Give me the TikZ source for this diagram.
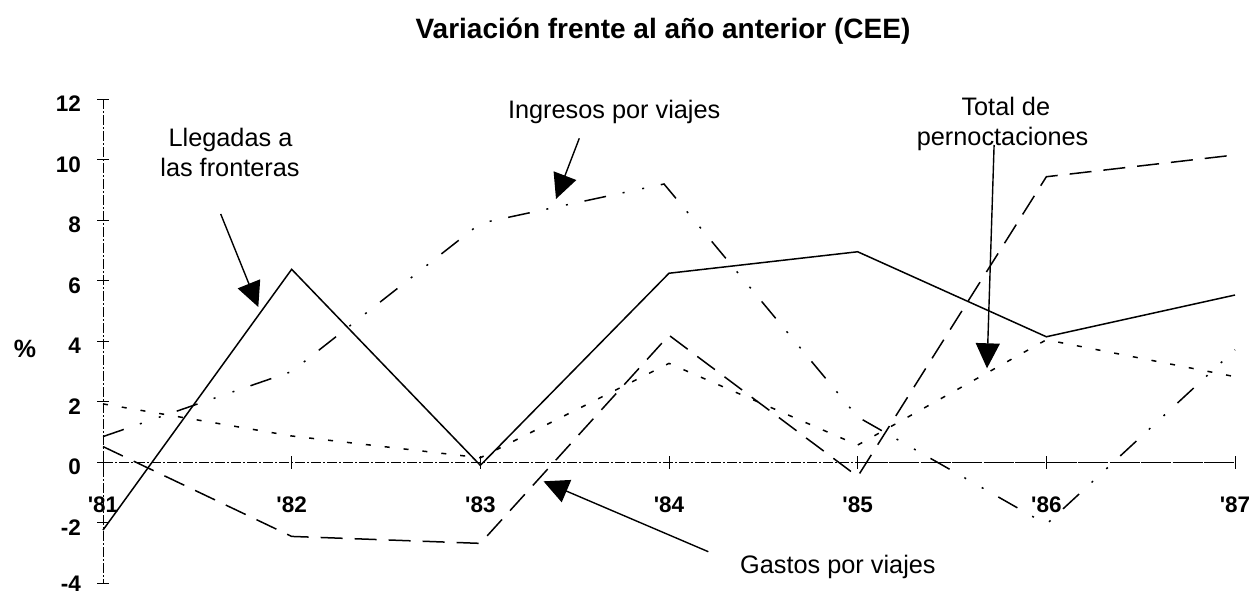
\documentclass[tikz,border=0pt]{standalone}
\usepackage{fontspec}
\setmainfont{Liberation Sans}
\usetikzlibrary{arrows.meta}
\newcommand\vy[1]{462.3-30.25*(#1)}
\newcommand\vx[1]{103+188.67*(#1)}
\begin{document}
\begin{tikzpicture}[x=1pt,y=-1pt,
  axisline/.style={line width=0.9pt, dash pattern=on 10pt off 2pt on 2pt off 2pt},
  axissolid/.style={line width=0.9pt, dash pattern=on 30pt off 1.5pt},
  tickline/.style={line width=0.9pt},
  series/.style={line width=1.5pt},
  llegadas/.style={series},
  ingresos/.style={series, dash pattern=on 22pt off 17pt on 2pt off 18pt on 2pt off 17pt},
  gastos/.style={series, dash pattern=on 22pt off 12pt},
  pernoct/.style={series, dash pattern=on 5pt off 14pt},
  arr/.style={line width=1.4pt, -{Triangle[length=25pt,width=24pt]}},
  lab/.style={font=\fontsize{25.3}{30}\selectfont, anchor=base, inner sep=0pt},
  num/.style={font=\bfseries\fontsize{22.5}{26}\selectfont, inner sep=0pt},
]
\useasboundingbox (0,0) rectangle (1254,594);

% title
\node[anchor=base, inner sep=0pt, font=\bfseries\fontsize{28}{32}\selectfont] (title) at (663,39)
  {Variación frente al año anterior (CEE)};

% axes
\draw[axisline] (103,99.3) -- (103,583.3);
\draw[axisline] ({\vx{0}},462.3) -- ({\vx{4}},462.3);
\draw[axissolid] ({\vx{4}},462.3) -- ({\vx{6}},462.3);
\foreach \v in {12,10,...,-2} {
  \draw[tickline] (97,{\vy{\v}}) -- (109,{\vy{\v}});
  \node[num, anchor=base east] (yl\v) at (81,{\vy{\v}+12.5}) {\v};
}
\draw[tickline] (97,{\vy{-4}}) -- (109,{\vy{-4}});
\node[num, anchor=base east] (yl-4) at (81,591.5) {-4};
\foreach \i/\yr in {0/81,1/82,2/83,3/84,4/85,5/86,6/87} {
  \draw[tickline] ({\vx{\i}},456) -- ({\vx{\i}},468.5);
  \node[num, anchor=base] (xl\yr) at ({\vx{\i}},512) {\textquotesingle\yr};
}
\node[num, anchor=base, font=\bfseries\fontsize{25}{28}\selectfont] (pct) at (25,357) {\%};

% series
\draw[llegadas] ({\vx{0}},{\vy{-2.24}}) -- ({\vx{1}},{\vy{6.38}}) -- ({\vx{2}},{\vy{-0.1}}) -- ({\vx{3}},{\vy{6.25}})
  -- ({\vx{4}},{\vy{6.96}}) -- ({\vx{5}},{\vy{4.15}}) -- ({\vx{6}},{\vy{5.53}});
\draw[ingresos] ({\vx{0}},{\vy{0.85}}) -- ({\vx{1}},{\vy{3.0}}) -- ({\vx{2}},{\vy{7.9}}) -- (664,{\vy{9.2}})
  -- ({\vx{4}},{\vy{1.5}}) -- ({\vx{5}},{\vy{-2.05}}) -- ({\vx{6}},{\vy{3.72}});
\draw[gastos] ({\vx{0}},{\vy{0.52}}) -- ({\vx{1}},{\vy{-2.45}}) -- ({\vx{2}},{\vy{-2.68}}) -- ({\vx{3}},{\vy{4.2}})
  -- ({\vx{4}},{\vy{-0.47}}) -- ({\vx{5}},{\vy{9.44}}) -- ({\vx{6}},{\vy{10.16}});
\draw[pernoct] ({\vx{0}},{\vy{1.93}}) -- ({\vx{1}},{\vy{0.87}}) -- ({\vx{2}},{\vy{0.15}}) -- ({\vx{3}},{\vy{3.27}})
  -- ({\vx{4}},{\vy{0.57}}) -- ({\vx{5}},{\vy{4.05}}) -- ({\vx{6}},{\vy{2.83}});

% annotations
\node[lab] (ll1) at (230.5,146.7) {Llegadas a};
\node[lab] (ll2) at (230,176.7) {las fronteras};
\node[lab] (ing) at (614.2,118.3) {Ingresos por viajes};
\node[lab] (tot1) at (1005.8,115) {Total de};
\node[lab] (tot2) at (1002.6,145) {pernoctaciones};
\node[lab] (gas) at (837.9,573.3) {Gastos por viajes};

\coordinate (llA) at (220.7,214);
\coordinate (llB) at (258.3,307);
\coordinate (ingA) at (579.3,138.3);
\coordinate (ingB) at (556,199);
\coordinate (totA) at (994.1,145);
\coordinate (totB) at (987,368.3);
\coordinate (gasA) at (708.3,551.7);
\coordinate (gasB) at (543.5,481.3);
\draw[arr] (llA) -- (llB);
\draw[arr] (ingA) -- (ingB);
\draw[arr] (totA) -- (totB);
\draw[arr] (gasA) -- (gasB);
\end{tikzpicture}
\end{document}
